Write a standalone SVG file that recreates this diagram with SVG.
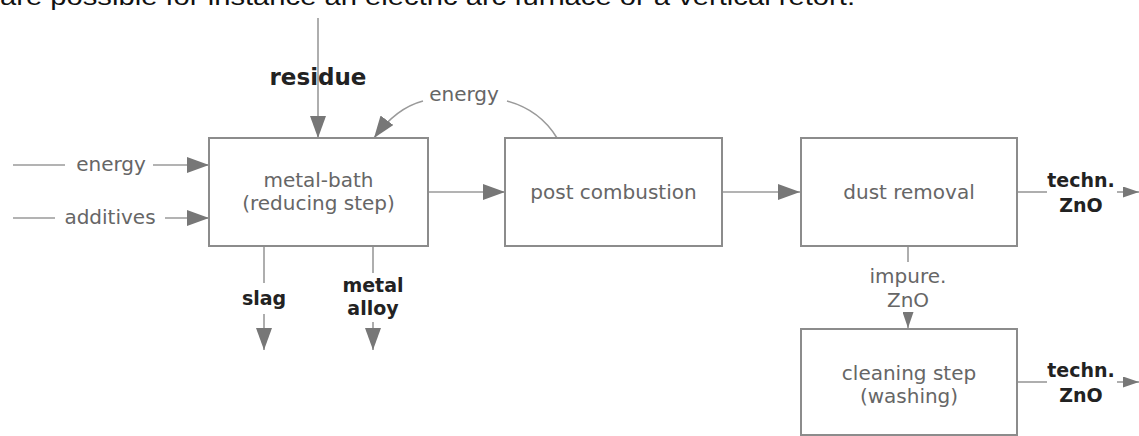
<svg xmlns="http://www.w3.org/2000/svg" width="1139" height="436" viewBox="0 0 1139 436">
<style>
.box{fill:#fff;stroke:#8c8c8c;stroke-width:2}
.ln{fill:none;stroke:#9a9a9a;stroke-width:1.6}
.t{font-family:"DejaVu Sans",Verdana,sans-serif;font-size:20px;fill:#666;text-anchor:middle}
.b{font-family:"DejaVu Sans",Verdana,sans-serif;font-size:19px;font-weight:bold;fill:#222;text-anchor:middle}
.top{font-family:"Liberation Sans",Arial,sans-serif;font-size:24px;fill:#111}
</style>
<defs>
<marker id="ah" markerUnits="userSpaceOnUse" markerWidth="22" markerHeight="16" refX="22" refY="8" orient="auto">
<path d="M0,0 L22,8 L0,16 z" fill="#777"/>
</marker>
<marker id="ahs" markerUnits="userSpaceOnUse" markerWidth="16" markerHeight="11" refX="16" refY="5.5" orient="auto">
<path d="M0,0 L16,5.5 L0,11 z" fill="#777"/>
</marker>
</defs>
<rect width="1139" height="436" fill="#fff"/>
<text class="top" x="0" y="5" textLength="855" lengthAdjust="spacingAndGlyphs">are possible for instance an electric arc furnace or a vertical retort.</text>

<g id="connectors">
<line class="ln" x1="318" y1="18" x2="318" y2="138" marker-end="url(#ah)"/>
<path class="ln" d="M423,101 Q396,108 374,138" marker-end="url(#ah)"/>
<path class="ln" d="M507,101 Q540,110 557,138"/>
<line class="ln" x1="13" y1="165" x2="65" y2="165"/>
<line class="ln" x1="153" y1="165" x2="209" y2="165" marker-end="url(#ah)"/>
<line class="ln" x1="13" y1="218" x2="55" y2="218"/>
<line class="ln" x1="165" y1="218" x2="209" y2="218" marker-end="url(#ah)"/>
<line class="ln" x1="428" y1="192" x2="505" y2="192" marker-end="url(#ah)"/>
<line class="ln" x1="722" y1="192" x2="800" y2="192" marker-end="url(#ah)"/>
<line class="ln" x1="1017" y1="192" x2="1047" y2="192"/>
<line class="ln" x1="1117" y1="192" x2="1139" y2="192" marker-end="url(#ahs)"/>
<line class="ln" x1="264" y1="246" x2="264" y2="283"/>
<line class="ln" x1="264" y1="314" x2="264" y2="350" marker-end="url(#ah)"/>
<line class="ln" x1="373" y1="246" x2="373" y2="273"/>
<line class="ln" x1="373" y1="322" x2="373" y2="350" marker-end="url(#ah)"/>
<line class="ln" x1="908" y1="246" x2="908" y2="262"/>
<line class="ln" x1="908" y1="312" x2="908" y2="328" marker-end="url(#ahs)"/>
<line class="ln" x1="1017" y1="382" x2="1047" y2="382"/>
<line class="ln" x1="1117" y1="382" x2="1139" y2="382" marker-end="url(#ahs)"/>
</g>

<g id="labels">
<text class="b" x="318" y="85" style="font-size:23px">residue</text>
<text class="t" x="464" y="101">energy</text>
<text class="t" x="111" y="171">energy</text>
<text class="t" x="110" y="224">additives</text>
<text class="b" x="1081" y="187">techn.</text>
<text class="b" x="1081" y="212">ZnO</text>
<text class="b" x="264" y="305">slag</text>
<text class="b" x="373" y="292">metal</text>
<text class="b" x="373" y="315">alloy</text>
<text class="t" x="908" y="283">impure.</text>
<text class="t" x="908" y="307">ZnO</text>
<text class="b" x="1081" y="377">techn.</text>
<text class="b" x="1081" y="402">ZnO</text>
</g>

<g id="metal-bath">
<rect class="box" x="209" y="138" width="219" height="108"/>
<text class="t" x="318.5" y="187">metal-bath</text>
<text class="t" x="318.5" y="210">(reducing step)</text>
</g>
<g id="post-combustion">
<rect class="box" x="505" y="138" width="217" height="108"/>
<text class="t" x="613.5" y="199">post combustion</text>
</g>
<g id="dust-removal">
<rect class="box" x="801" y="138" width="216" height="108"/>
<text class="t" x="909" y="199">dust removal</text>
</g>
<g id="cleaning-step">
<rect class="box" x="801" y="329" width="216" height="106"/>
<text class="t" x="909" y="380">cleaning step</text>
<text class="t" x="909" y="403">(washing)</text>
</g>
</svg>
